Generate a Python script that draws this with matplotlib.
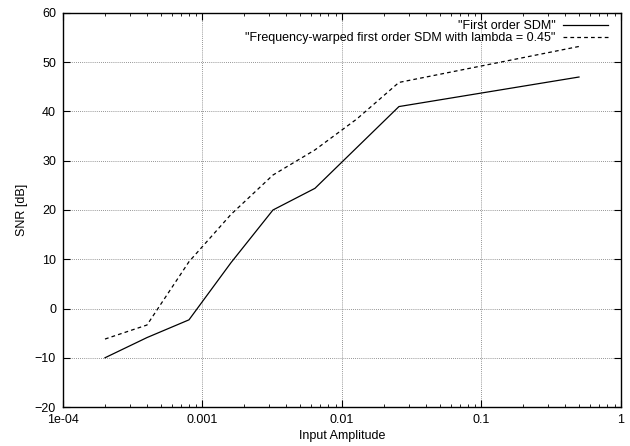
import matplotlib
matplotlib.use('Agg')
import matplotlib.pyplot as plt
from matplotlib.ticker import FixedLocator, FixedFormatter, LogLocator, NullFormatter

plt.rcParams['font.family'] = ['Liberation Sans', 'DejaVu Sans']
plt.rcParams['font.size'] = 9

# input amplitudes and SNR values
amplitude = [2e-4, 4e-4, 8e-4, 1.6e-3, 3.2e-3, 6.4e-3, 1.28e-2, 2.56e-2, 0.5]
snr_first = [-10.0, -5.9, -2.3, 9.3, 20.0, 24.4, 32.7, 41.0, 47.0]
snr_warped = [-6.2, -3.35, 9.5, 19.1, 27.1, 32.2, 38.5, 45.9, 53.2]

xticks = [1e-4, 1e-3, 1e-2, 1e-1, 1]
xticklabels = ['1e-04', '0.001', '0.01', '0.1', '1']
yticks = [-20, -10, 0, 10, 20, 30, 40, 50, 60]

fig = plt.figure(figsize=(6.3, 4.46), dpi=100)
ax = fig.add_axes([0.1, 0.0874, 0.8857, 0.8835])

ax.plot(amplitude, snr_first, color='k', lw=0.9, label='"First order SDM"')
ax.plot(amplitude, snr_warped, color='k', lw=0.9, dashes=(3, 2.5),
        label='"Frequency-warped first order SDM with lambda = 0.45"')

ax.set_xscale('log')
ax.set_xlim(1e-4, 1)
ax.set_ylim(-20, 60)
ax.xaxis.set_major_locator(FixedLocator(xticks))
ax.xaxis.set_major_formatter(FixedFormatter(xticklabels))
ax.xaxis.set_minor_locator(LogLocator(base=10, subs=range(2, 10)))
ax.xaxis.set_minor_formatter(NullFormatter())
ax.set_yticks(yticks)

ax.tick_params(which='both', direction='in', top=True, right=True, colors='k', pad=5)
ax.tick_params(which='major', length=5, width=0.8)
ax.tick_params(which='minor', length=2.5, width=0.6)

# gnuplot-style dotted grid, only at inner major ticks
for v in xticks[1:-1]:
    ax.axvline(v, color='0.45', lw=0.6, ls=(0, (1, 1.5)), zorder=0.5)
for v in yticks[1:-1]:
    ax.axhline(v, color='0.45', lw=0.6, ls=(0, (1, 1.5)), zorder=0.5)

for s in ax.spines.values():
    s.set_linewidth(1.0)

ax.set_xlabel('Input Amplitude', labelpad=3)
ax.set_ylabel('SNR [dB]', labelpad=5)

ax.legend(loc='upper right', bbox_to_anchor=(0.9875, 0.998), frameon=False,
          markerfirst=False, handlelength=3.6, handletextpad=0.6,
          borderaxespad=0.1, labelspacing=0.0, fontsize=9)

fig.savefig('out.png', dpi=100)
